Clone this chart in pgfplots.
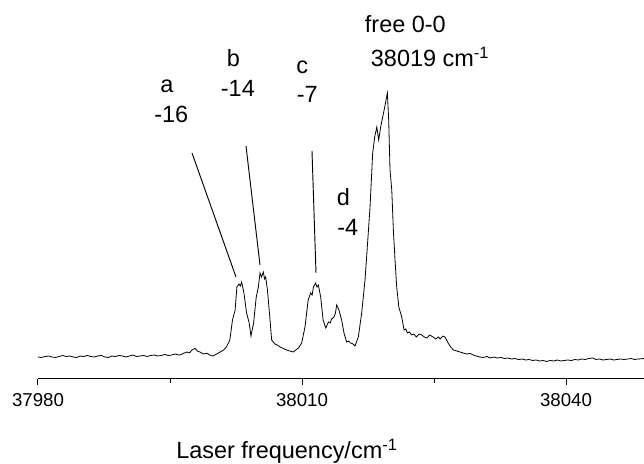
\documentclass[border=0pt]{standalone}
\usepackage{fontspec}
\setmainfont{Liberation Sans}
\usepackage{pgfplots}
\pgfplotsset{compat=1.18}
\pgfplotstableread{
x y
37980.0 22
37980.4 21.5
37980.8 22.5
37981.2 23
37981.6 22
37982.0 21.5
37982.4 22.5
37982.8 23.5
37983.2 22.5
37983.6 23
37984.0 22
37984.4 21.5
37984.8 23
37985.2 22.5
37985.6 23.5
37986.0 22.5
37986.4 22
37986.8 23
37987.2 23.5
37987.6 22
37988.0 21.5
37988.4 23
37988.8 22.5
37989.2 23.5
37989.6 23
37990.0 22
37990.4 23
37990.8 24
37991.2 22.5
37991.6 23
37992.0 23.5
37992.4 22.5
37992.8 23.5
37993.2 24
37993.6 23
37994.0 23.5
37994.4 24.5
37994.8 23.5
37995.2 24
37995.6 25
37996.0 24
37996.14 24
37996.5 25.5
37996.9 27
37997.2 26
37997.5 29
37997.84 30.7
37998.1 28
37998.4 27
37998.8 25
37999.2 25.7
37999.5 24
37999.9 23
38000.3 25
38000.7 27
38001.1 29
38001.4 32
38001.8 39
38002.1 59
38002.4 69
38002.6 92
38002.84 95
38003.0 93
38003.14 97
38003.4 86
38003.7 66
38004.0 56
38004.2 43
38004.5 56
38004.8 82
38005.04 92
38005.23 106
38005.4 102
38005.6 107
38005.75 100
38005.87 102
38006.06 90
38006.3 66
38006.55 39
38006.93 35
38007.2 34
38007.5 32
38007.9 30.5
38008.26 29
38008.6 28
38009.0 27
38009.3 29
38009.6 31
38009.96 36
38010.34 52
38010.7 79
38010.98 86
38011.15 84
38011.3 92
38011.55 96
38011.7 92
38011.86 94
38012.12 82
38012.4 59
38012.7 51
38013.0 57
38013.2 56
38013.37 60
38013.64 62
38013.8 66
38013.94 74
38014.2 69
38014.5 59
38014.77 46
38015.07 37
38015.3 38
38015.53 36
38015.8 35
38016.02 33
38016.4 42
38016.78 66
38017.16 99
38017.42 132
38017.73 172
38018.03 226
38018.26 242
38018.5 252
38018.71 239
38018.94 252
38019.17 262
38019.4 272
38019.55 279
38019.7 286
38019.85 259
38020.0 209
38020.2 189
38020.38 149
38020.57 119
38020.76 92
38021.0 72
38021.33 62
38021.6 49
38021.8 50
38021.97 46
38022.2 47
38022.46 44
38022.7 45
38023.0 42
38023.3 45
38023.6 44
38023.9 42
38024.2 41
38024.5 44
38024.9 42
38025.2 40
38025.5 42
38025.7 40
38026.0 43
38026.25 42
38026.6 36
38026.9 32
38027.2 29
38027.6 28
38027.95 27
38028.3 26
38028.7 25
38029.1 25.5
38029.47 24
38029.8 23
38030.2 22
38030.6 21.5
38031.0 22.5
38031.4 21
38031.8 22
38032.2 21
38032.6 21.5
38033.0 20.5
38033.4 21
38033.8 20
38034.2 20.5
38034.6 19.5
38035.0 20
38035.4 19
38035.8 19.5
38036.2 18.5
38036.6 19
38037.0 18
38037.4 18.5
38037.8 17.5
38038.2 18.5
38038.6 18
38039.0 19
38039.4 18
38039.8 18.5
38040.2 19
38040.6 18.5
38041.0 19.5
38041.4 19
38041.8 20
38042.2 19.5
38042.6 20.5
38043.0 21
38043.4 19.5
38043.8 20
38044.2 19
38044.6 19.5
38045.0 20
38045.4 19
38045.8 19.5
38046.2 20
38046.6 19.5
38047.0 20
38047.4 20.5
38047.8 19.5
38048.2 20
38048.86 20.5
}\spectrum
\begin{document}
\begin{tikzpicture}
\path[use as bounding box] (0pt,0pt) rectangle (483pt,348pt);
\begin{axis}[
  at={(28.5pt,63.75pt)}, anchor=south west,
  scale only axis, width=454.5pt, height=284.25pt,
  xmin=37980, xmax=38048.86, ymin=0, ymax=379,
  axis x line=bottom, axis y line=none,
  axis line style={-, line width=0.75pt},
  xtick={37980,38010,38040}, minor xtick={37995,38025},
  xticklabels={37980,38010,38040},
  scaled x ticks=false,
  tick align=outside,
  major tick length=4.5pt, minor tick length=3pt,
  tick style={line width=0.75pt, black},
  xticklabel style={font=\fontsize{14}{16}\selectfont, yshift=-3pt},
  clip=false,
]
\addplot[black, line width=0.6pt] table[x=x, y=y] {\spectrum};
\end{axis}
\draw[line width=0.7pt] (144pt,233.25pt) -- (177pt,140.25pt);
\draw[line width=0.7pt] (184.5pt,238.5pt) -- (195pt,149.25pt);
\draw[line width=0.7pt] (234pt,234.75pt) -- (237pt,143.25pt);
\begin{scope}[every node/.style={anchor=base west, inner sep=0pt, font=\fontsize{17.6}{20}\selectfont}]
\node at (273.5pt,323.25pt) {free 0-0};
\node at (278pt,297.75pt) {38019 cm\textsuperscript{-1}};
\node at (120pt,278.25pt) {a};
\node at (115.5pt,256pt) {-16};
\node at (169.9pt,298pt) {b};
\node at (165.5pt,275.5pt) {-14};
\node at (222pt,292.5pt) {c};
\node at (222.5pt,270.75pt) {-7};
\node at (252.4pt,193.5pt) {d};
\node at (252.75pt,171pt) {-4};
\node at (132pt,4pt) {Laser frequency/cm\textsuperscript{-1}};
\end{scope}
\end{tikzpicture}
\end{document}
